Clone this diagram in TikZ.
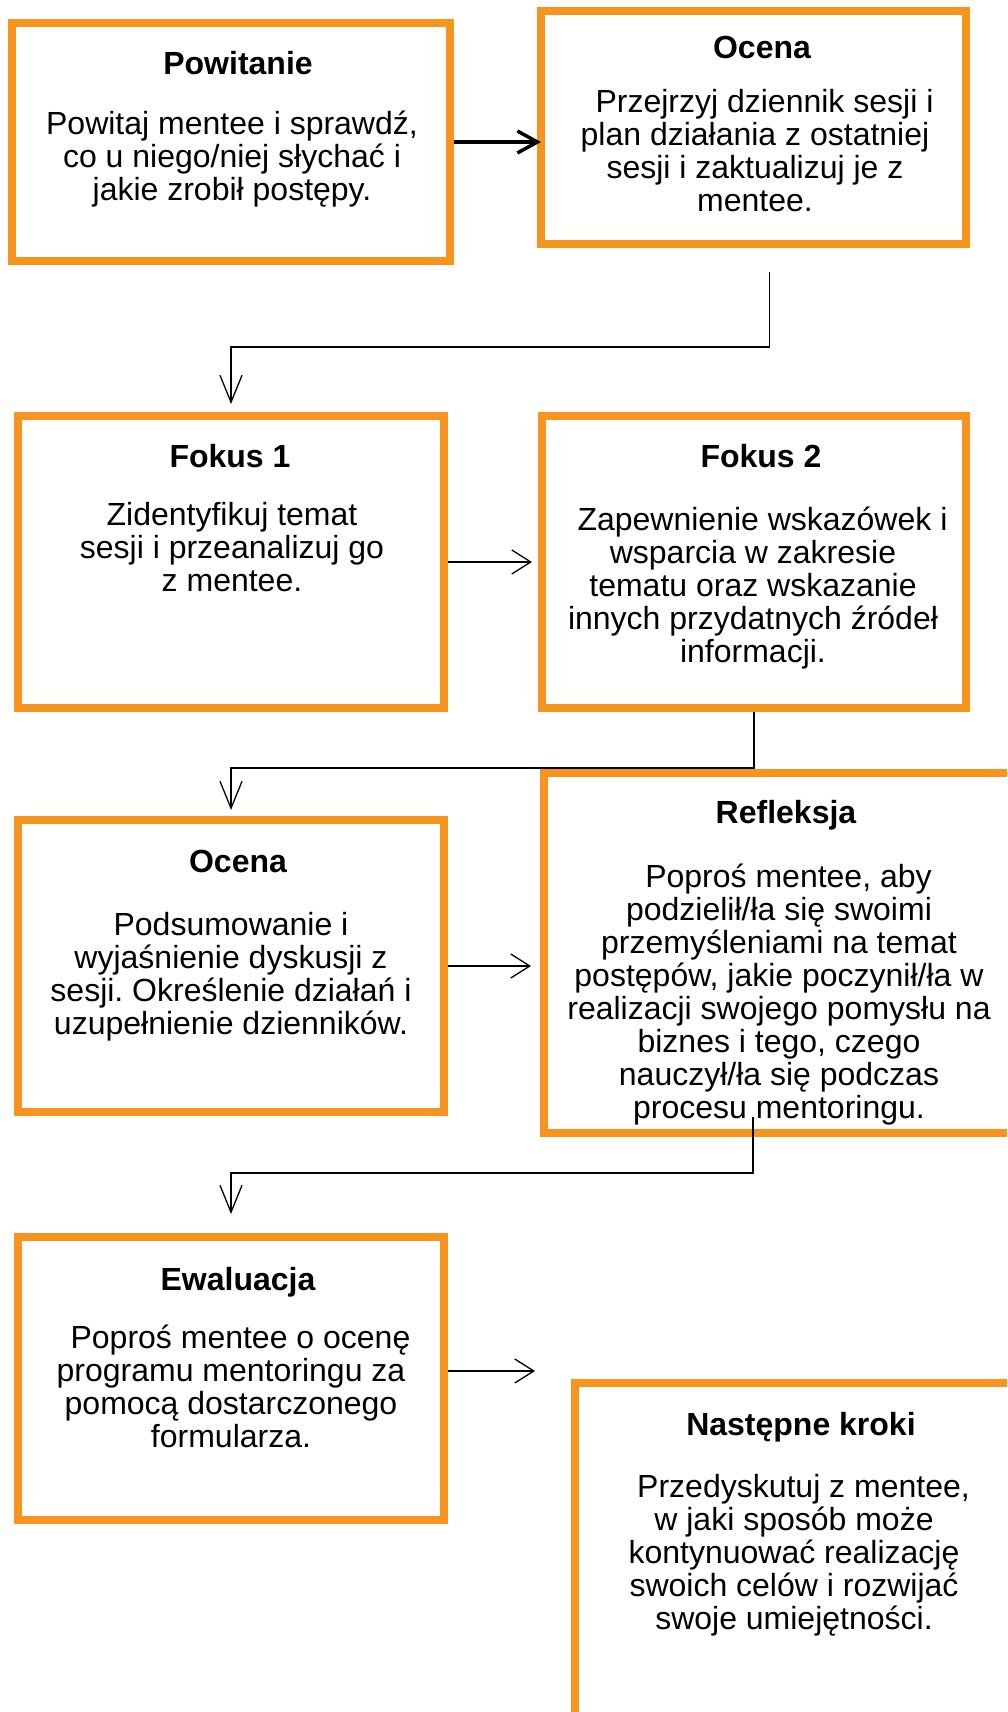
\documentclass[tikz,border=0pt]{standalone}
\usepackage{fontspec}
\setmainfont{Liberation Sans}
\usepackage{tikz}
\usetikzlibrary{arrows.meta}
\definecolor{boxorange}{RGB}{247,148,30}
\frenchspacing

\begin{document}
\begin{tikzpicture}[x=1pt,y=-1pt,
  box/.style={draw=boxorange,line width=8pt,fill=white,inner sep=0pt},
  ttl/.style={font=\fontsize{32}{33}\selectfont\bfseries,anchor=base,inner sep=0pt},
  txt/.style={font=\fontsize{32}{33}\selectfont,align=center,anchor=base,inner sep=0pt}, % base = last line
  harr/.style={line width=1.3pt,-{Straight Barb[length=19pt,width=24pt]}},
  varr/.style={line width=1.3pt,-{Straight Barb[length=27pt,width=22pt]}}]
  \useasboundingbox (0,0) rectangle (1007,1712);
  \clip (0,0) rectangle (1007,1712);

  % boxes
  \node[box,minimum width=438pt,minimum height=238pt] (powit) at (231,142) {};
  \node[box,minimum width=425pt,minimum height=233pt] (ocena) at (753.5,127.5) {};
  \node[box,minimum width=426pt,minimum height=292pt] (fokus1) at (231,562) {};
  \node[box,minimum width=424pt,minimum height=292pt] (fokus2) at (754,562) {};
  \node[box,minimum width=426pt,minimum height=292pt] (ocena2) at (231,966) {};
  \node[box,minimum width=470pt,minimum height=360pt] (refl) at (779,953) {}; % runs off the right edge
  \node[box,minimum width=426pt,minimum height=283pt] (ewal) at (231,1378.5) {};
  \node[box,minimum width=438pt,minimum height=417pt] (dalej) at (794,1591.5) {}; % runs off right and bottom

  % titles and texts
  \node[ttl] (powit-t) at (238,75) {Powitanie};
  \node[txt] (powit-b) at (232,201) {Powitaj mentee i sprawdź,\\co u niego/niej słychać i\\jakie zrobił postępy.};
  \node[ttl] (ocena-t) at (762,59) {Ocena};
  \node[txt] (ocena-b) at (755,212) {\hspace*{19pt}Przejrzyj dziennik sesji i\\plan działania z ostatniej\\sesji i zaktualizuj je z\\mentee.};
  \node[ttl] (fokus1-t) at (230,467) {Fokus 1};
  \node[txt] (fokus1-b) at (232,591) {Zidentyfikuj temat\\sesji i przeanalizuj go\\z mentee.};
  \node[ttl] (fokus2-t) at (761,467) {Fokus 2};
  \node[txt] (fokus2-b) at (753,662) {\hspace*{19pt}Zapewnienie wskazówek i\\wsparcia w zakresie\\tematu oraz wskazanie\\innych przydatnych źródeł\\informacji.};
  \node[ttl] (ocena2-t) at (238,872) {Ocena};
  \node[txt] (ocena2-b) at (231,1034) {Podsumowanie i\\wyjaśnienie dyskusji z\\sesji. Określenie działań i\\uzupełnienie dzienników.};
  \node[ttl] (refl-t) at (786,823) {Refleksja};
  \node[txt] (refl-b) at (779,1118) {\hspace*{19pt}Poproś mentee, aby\\podzielił/ła się swoimi\\przemyśleniami na temat\\postępów, jakie poczynił/ła w\\realizacji swojego pomysłu na\\biznes i tego, czego\\nauczył/ła się podczas\\procesu mentoringu.};
  \node[ttl] (ewal-t) at (238,1290) {Ewaluacja};
  \node[txt] (ewal-b) at (231,1447) {\hspace*{19pt}Poproś mentee o ocenę\\programu mentoringu za\\pomocą dostarczonego\\formularza.};
  \node[ttl] (dalej-t) at (801,1435) {Następne kroki};
  \node[txt] (dalej-b) at (794,1629) {\hspace*{19pt}Przedyskutuj z mentee,\\w jaki sposób może\\kontynuować realizację\\swoich celów i rozwijać\\swoje umiejętności.};

  % connectors
  \draw[line width=3.5pt,shorten >=-4pt,-{Straight Barb[length=20pt,width=22pt]}] (powit.east) -- (ocena.west |- powit.east);
  \draw[harr,shorten >=6pt] (fokus1.east) -- (fokus2.west);
  \draw[harr,shorten >=9pt] (ocena2.east) -- (refl.west |- ocena2.east);
  \coordinate (ewend) at (535,1371); % arrow ends in the gap
  \draw[harr] (ewal.east |- ewend) -- (ewend);
  \draw[varr,shorten >=8pt] ([xshift=16pt,yshift=-24pt]ocena.south) -- ++(0,75) -| (fokus1.north);
  \draw[varr,shorten >=6pt] (fokus2.south) -- ++(0,56) -| (ocena2.north);
  \draw[varr,shorten >=19pt] ([xshift=-26pt,yshift=20pt]refl.south) -- ++(0,56) -| (ewal.north);
\end{tikzpicture}
\end{document}
